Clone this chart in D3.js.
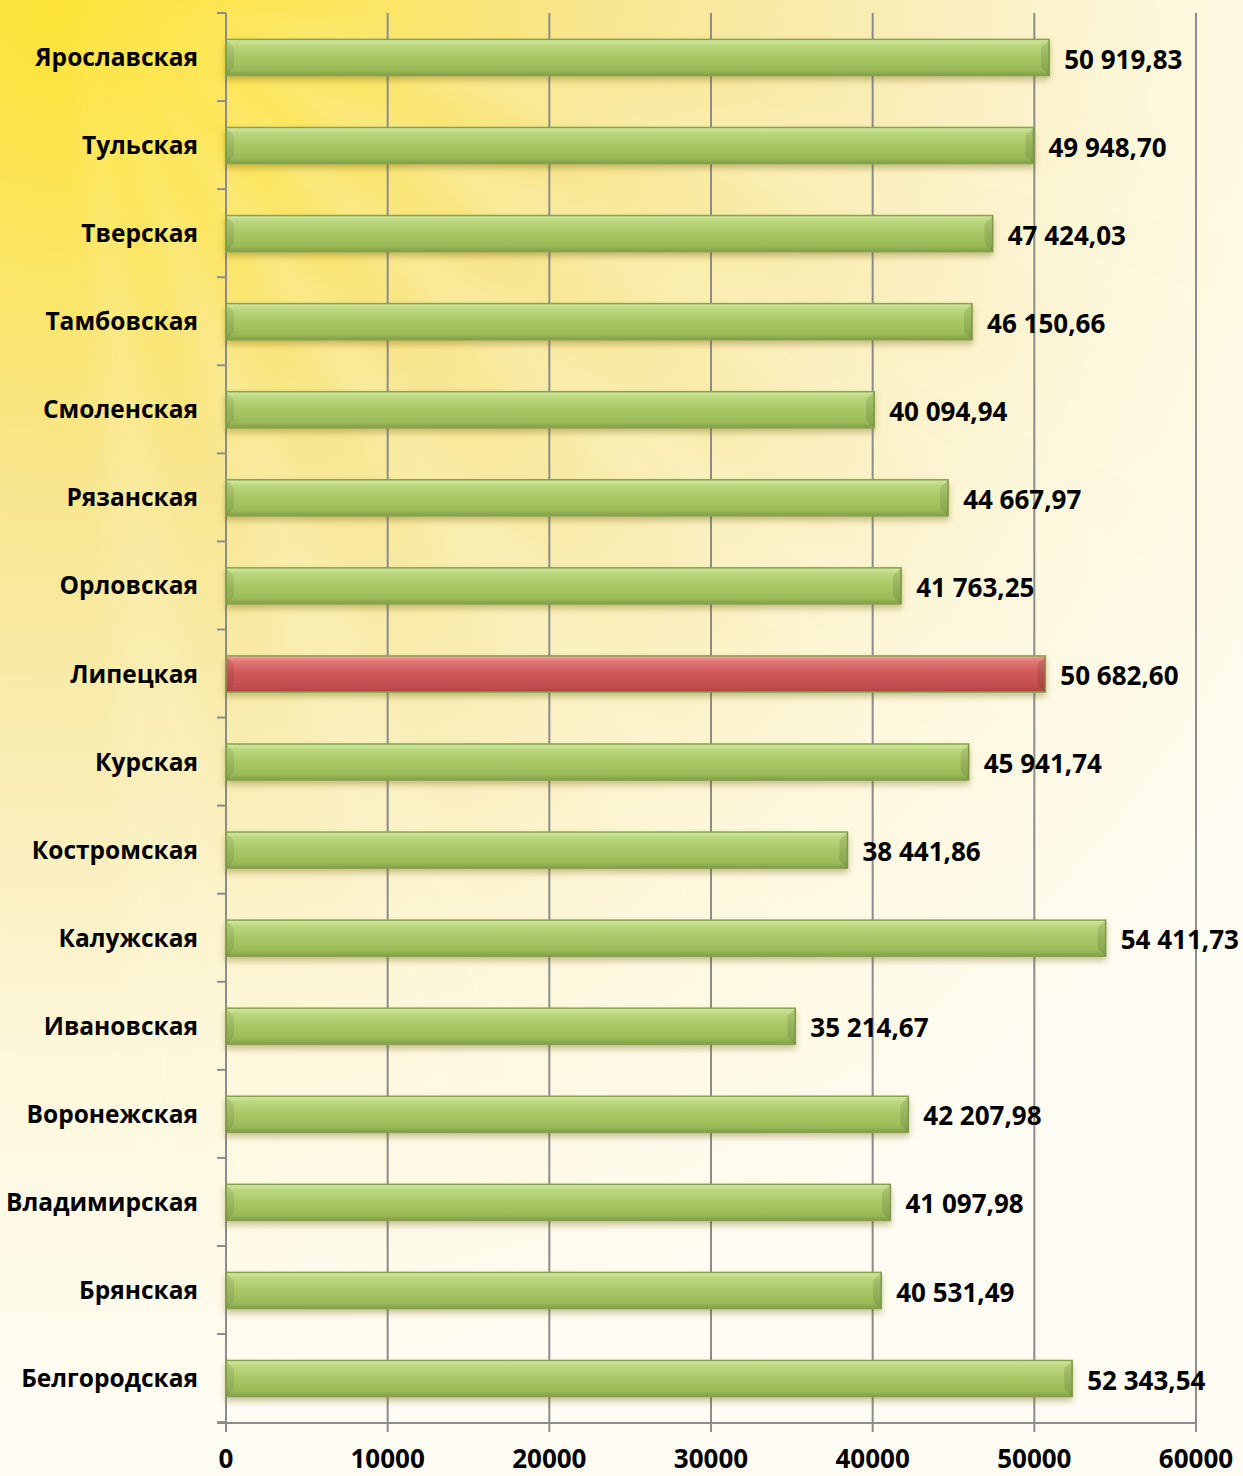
<html>
  <head>
    <meta charset="utf-8" />
    <script src="https://d3js.org/d3.v7.min.js"></script>
    <style>
      body {
        margin: 0;
        background: #fffdf2;
      }
      .label {
        font-family: "Open Sans", Lato, sans-serif;
        font-weight: 700;
        font-size: 24.5px;
        fill: #000;
      }
      .num {
        font-size: 26px;
      }
      .grid line {
        stroke: #8c8c8c;
        stroke-width: 2px;
      }
    </style>
  </head>
  <body>
    <svg id="chart" width="1243" height="1476"></svg>
    <script>
      // Regions (top to bottom) and values
      const regions = [
        "Ярославская", "Тульская", "Тверская", "Тамбовская", "Смоленская",
        "Рязанская", "Орловская", "Липецкая", "Курская", "Костромская",
        "Калужская", "Ивановская", "Воронежская", "Владимирская", "Брянская",
        "Белгородская"
      ];
      const values = [
        50919.83, 49948.7, 47424.03, 46150.66, 40094.94,
        44667.97, 41763.25, 50682.6, 45941.74, 38441.86,
        54411.73, 35214.67, 42207.98, 41097.98, 40531.49,
        52343.54
      ];
      const highlighted = ["Липецкая"];
      const xTicks = [0, 10000, 20000, 30000, 40000, 50000, 60000];

      const data = regions.map((r, i) => ({ region: r, value: values[i] }));

      const svg = d3.select("#chart");
      const width = +svg.attr("width");
      const height = +svg.attr("height");
      const margin = { top: 13, right: 47, bottom: 53, left: 226 };

      const defs = svg.append("defs");

      // background: sun at top left fading into cream
      const bg = defs.append("radialGradient").attr("id", "bg")
        .attr("gradientUnits", "userSpaceOnUse")
        .attr("cx", 80).attr("cy", -20).attr("r", 1450);
      [[0, "#fde330"], [0.15, "#fce556"], [0.35, "#f8e68e"], [0.55, "#f9edb4"], [0.75, "#fdf7dc"], [1, "#fffdf3"]]
        .forEach(([o, c]) => bg.append("stop").attr("offset", o).attr("stop-color", c));
      svg.append("rect").attr("width", width).attr("height", height).attr("fill", "url(#bg)");

      // soft rays
      const blur = defs.append("filter").attr("id", "blur");
      blur.append("feGaussianBlur").attr("stdDeviation", 12);
      const rays = svg.append("g").attr("opacity", 0.18).attr("filter", "url(#blur)");
      [14, 27, 40, 55, 70, 84].forEach((a) => {
        const r = 1300, s = 3 * Math.PI / 180, t = a * Math.PI / 180;
        rays.append("path")
          .attr("d", `M80,-20 L${80 + r * Math.cos(t - s)},${-20 + r * Math.sin(t - s)} L${80 + r * Math.cos(t + s)},${-20 + r * Math.sin(t + s)} Z`)
          .attr("fill", "#fffbe0");
      });

      const green = defs.append("linearGradient").attr("id", "green")
        .attr("x1", 0).attr("y1", 0).attr("x2", 0).attr("y2", 1);
      [[0, "#d3e9a3"], [0.15, "#bcd87f"], [0.5, "#a8c766"], [0.85, "#9aba58"], [1, "#809d47"]]
        .forEach(([o, c]) => green.append("stop").attr("offset", o).attr("stop-color", c));
      const red = defs.append("linearGradient").attr("id", "red")
        .attr("x1", 0).attr("y1", 0).attr("x2", 0).attr("y2", 1);
      [[0, "#f5a3a3"], [0.15, "#e27575"], [0.5, "#cd5757"], [0.85, "#c24f4f"], [1, "#a84444"]]
        .forEach(([o, c]) => red.append("stop").attr("offset", o).attr("stop-color", c));

      const shadow = defs.append("filter").attr("id", "shadow")
        .attr("x", "-5%").attr("y", "-30%").attr("width", "110%").attr("height", "180%");
      shadow.append("feDropShadow").attr("dx", 0).attr("dy", 4).attr("stdDeviation", 3)
        .attr("flood-color", "#6b5a10").attr("flood-opacity", 0.35);

      const x = d3.scaleLinear().domain([0, 60000]).range([margin.left, width - margin.right]);
      const y = d3.scaleBand().domain(regions)
        .range([margin.top, height - margin.bottom])
        .paddingInner(0.59).paddingOuter(0.3);
      const step = y.step();
      const fmt = d3.formatLocale({ decimal: ",", thousands: " ", grouping: [3], currency: ["", ""] }).format(",.2f");

      // gridlines
      svg.append("g").attr("class", "grid")
        .selectAll("line").data(xTicks.slice(1)).join("line")
        .attr("x1", (d) => x(d)).attr("x2", (d) => x(d))
        .attr("y1", margin.top).attr("y2", height - margin.bottom + 9);

      // y axis with ticks between categories
      const yAxis = svg.append("g").attr("class", "grid");
      yAxis.append("line")
        .attr("x1", x(0)).attr("x2", x(0))
        .attr("y1", margin.top).attr("y2", height - margin.bottom + 9);
      yAxis.selectAll("line.tick").data(d3.range(regions.length + 1)).join("line")
        .attr("class", "tick")
        .attr("x1", x(0) - 9).attr("x2", x(0))
        .attr("y1", (i) => margin.top + i * step).attr("y2", (i) => margin.top + i * step);
      // x axis
      yAxis.append("line")
        .attr("x1", x(0) - 9).attr("x2", x(60000))
        .attr("y1", height - margin.bottom).attr("y2", height - margin.bottom);

      // bars
      const bars = svg.append("g").selectAll("g.bar").data(data).join("g").attr("class", "bar");
      bars.append("rect")
        .attr("x", x(0))
        .attr("y", (d) => y(d.region))
        .attr("width", (d) => x(d.value) - x(0))
        .attr("height", y.bandwidth())
        .attr("fill", (d) => highlighted.includes(d.region) ? "url(#red)" : "url(#green)")
        .attr("stroke", "#86a34c")
        .attr("stroke-width", 1.5)
        .attr("filter", "url(#shadow)");
      // bevel at the ends
      const bv = 8;
      bars.append("path")
        .attr("d", (d) => {
          const x0 = x(0), y0 = y(d.region), h = y.bandwidth();
          return `M${x0},${y0} L${x0 + bv},${y0 + bv} L${x0 + bv},${y0 + h - bv} L${x0},${y0 + h} Z`;
        })
        .attr("fill", "#000").attr("opacity", 0.08);
      bars.append("path")
        .attr("d", (d) => {
          const x1 = x(d.value), y0 = y(d.region), h = y.bandwidth();
          return `M${x1},${y0} L${x1 - bv},${y0 + bv} L${x1 - bv},${y0 + h - bv} L${x1},${y0 + h} Z`;
        })
        .attr("fill", "#000").attr("opacity", 0.1);

      // category labels
      svg.append("g").selectAll("text").data(data).join("text")
        .attr("class", "label")
        .attr("x", 198)
        .attr("y", (d) => y(d.region) + y.bandwidth() / 2)
        .attr("dy", "0.35em")
        .attr("text-anchor", "end")
        .text((d) => d.region);

      // value labels
      svg.append("g").selectAll("text").data(data).join("text")
        .attr("class", "label num")
        .attr("x", (d) => x(d.value) + 15)
        .attr("y", (d) => y(d.region) + y.bandwidth() / 2 + 2)
        .attr("dy", "0.35em")
        .text((d) => fmt(d.value));

      // x tick labels
      svg.append("g").selectAll("text").data(xTicks).join("text")
        .attr("class", "label num")
        .attr("x", (d) => x(d))
        .attr("y", height - margin.bottom + 36)
        .attr("dy", "0.35em")
        .attr("text-anchor", "middle")
        .text((d) => d);
    </script>
  </body>
</html>
